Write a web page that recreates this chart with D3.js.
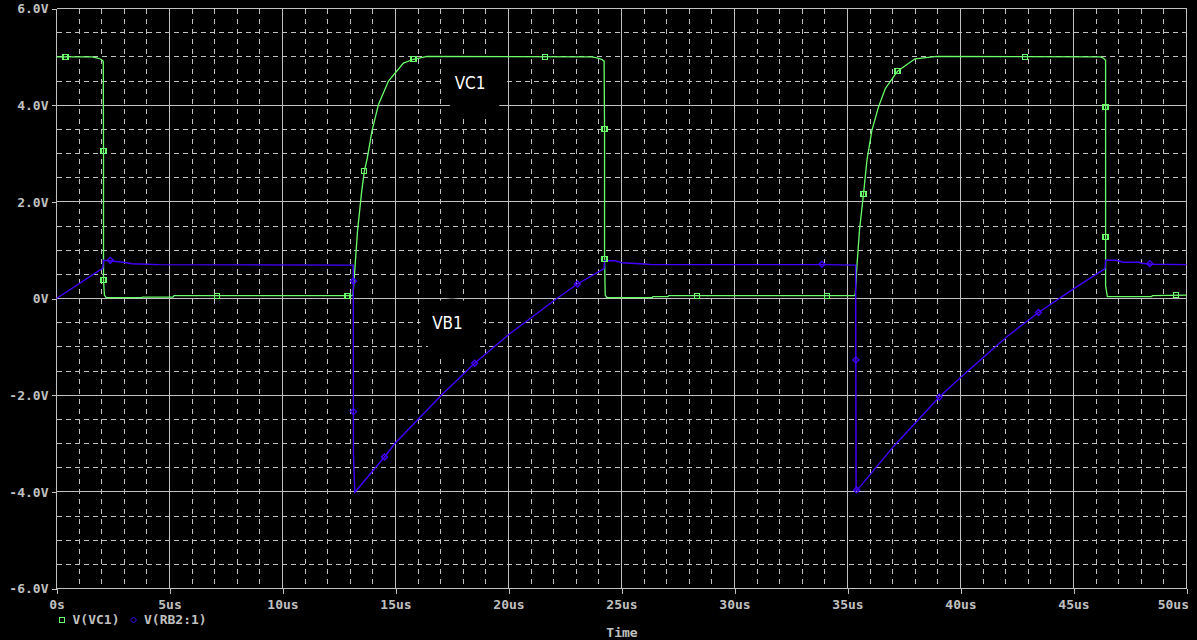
<!DOCTYPE html>
<html><head><meta charset="utf-8">
<script src="https://cdn.jsdelivr.net/npm/d3@7"></script>
<style>html,body{margin:0;padding:0;background:#000;overflow:hidden}</style>
</head><body>
<svg id="chart" width="1197" height="640"></svg>
<script>
// ---- data ----
const xTickValues = [0,5,10,15,20,25,30,35,40,45,50];
const xTickLabels = ["0s","5us","10us","15us","20us","25us","30us","35us","40us","45us","50us"];
const yTickValues = [6,4,2,0,-2,-4,-6];
const yTickLabels = ["6.0V","4.0V","2.0V","0V","-2.0V","-4.0V","-6.0V"];
const seriesNames = ["V(VC1)","V(RB2:1)"];
const traceLabels = ["VC1","VB1"];

// V(VC1): [time us, volts]
const vc1 = [
  [0,5.0],[1.57,5.0],[1.86,4.97],[2.0,4.94],[2.07,4.91],[2.08,3.05],[2.08,0.38],[2.12,0.07],[2.2,0.02],
  [3.78,0.02],[3.8,0.03],[5.15,0.03],[5.2,0.06],[13.08,0.06],[13.12,0.07],[13.2,0.6],[13.32,1.4],
  [13.5,2.2],[13.62,2.63],[13.75,2.9],[13.96,3.47],[14.25,4.02],[14.69,4.5],[15.35,4.87],[15.8,4.95],
  [16.39,5.01],[23.7,5.0],[24.0,4.97],[24.15,4.94],[24.23,4.91],[24.25,3.5],[24.25,0.81],[24.28,0.07],
  [24.35,0.02],[26.35,0.02],[26.4,0.04],[27.05,0.04],[27.1,0.06],[35.3,0.06],[35.34,0.07],[35.41,0.62],
  [35.53,1.41],[35.71,2.17],[35.86,2.86],[36.08,3.48],[36.37,3.96],[36.67,4.34],[37.21,4.70],[37.99,4.96],
  [38.95,5.01],[46.2,5.0],[46.33,4.97],[46.42,4.93],[46.42,0.26],[46.5,0.04],[48.45,0.04],[48.5,0.06],
  [50,0.07]
];
const vc1Markers = [
  [0.4,5.0],[2.08,3.05],[2.08,0.38],[7.11,0.05],[12.88,0.06],[13.62,2.63],[15.8,4.96],[21.62,5.0],
  [24.25,3.5],[24.25,0.81],[28.35,0.05],[34.1,0.06],[35.71,2.17],[37.21,4.70],[42.86,5.0],
  [46.42,3.97],[46.42,1.28],[49.55,0.065]
];
// V(RB2:1)
const vb1 = [
  [0,0],[2.05,0.63],[2.08,0.79],[2.52,0.77],[2.96,0.75],[3.34,0.72],[4.51,0.70],[13.13,0.69],
  [13.14,-3.23],[13.2,-4.01],[14.51,-3.28],[14.99,-2.99],[17.05,-1.99],[18.5,-1.34],[20.0,-0.75],
  [22.14,0.0],[23.05,0.30],[24.23,0.62],[24.25,0.78],[24.72,0.78],[25.02,0.74],[25.83,0.72],
  [26.35,0.70],[33.87,0.70],[35.36,0.69],[35.38,-3.97],[35.42,-3.97],[37.04,-3.06],[39.06,-2.04],
  [39.99,-1.64],[42.05,-0.79],[43.45,-0.29],[45.0,0.2],[46.4,0.62],[46.42,0.79],[46.9,0.79],
  [47.2,0.75],[47.9,0.75],[48.0,0.73],[48.45,0.71],[50,0.70]
];
const vb1Markers = [
  [2.38,0.79],[13.14,0.36],[13.14,-2.34],[14.51,-3.28],[18.5,-1.34],[23.05,0.30],[33.87,0.71],
  [35.37,-1.27],[35.4,-3.96],[39.06,-2.04],[43.45,-0.29],[48.38,0.72]
];

// ---- layout ----
const GREEN = "#6cff6c", BLUE = "#4400ff", GRID = "#c0c0c0", TEXT = "#c0c0c0";
const svg = d3.select("#chart");
svg.append("rect").attr("width",1197).attr("height",640).attr("fill","#000");
const x = d3.scaleLinear().domain([0,50]).range([56.5,1186.5]);
const y = d3.scaleLinear().domain([-6,6]).range([588.5,8.5]);

// grid
const g = svg.append("g").attr("shape-rendering","crispEdges");
const xMinor = d3.range(1,50,1).filter(v => v % 5 !== 0);
const yMinor = d3.range(-5.5,6,0.5).filter(v => Math.abs(v % 2) !== 0);
g.selectAll(".vmin").data(xMinor).join("line")
  .attr("x1",d=>x(d)).attr("x2",d=>x(d)).attr("y1",y(6)).attr("y2",y(-6))
  .attr("stroke",GRID).attr("stroke-dasharray","5,5");
g.selectAll(".hmin").data(yMinor).join("line")
  .attr("x1",x(0)).attr("x2",x(50)).attr("y1",d=>y(d)).attr("y2",d=>y(d))
  .attr("stroke",GRID).attr("stroke-dasharray","5,4");
g.selectAll(".vmaj").data(xTickValues).join("line")
  .attr("x1",d=>x(d)).attr("x2",d=>x(d)).attr("y1",y(6)).attr("y2",y(-6))
  .attr("stroke",GRID);
g.selectAll(".hmaj").data(yTickValues).join("line")
  .attr("x1",x(0)).attr("x2",x(50)).attr("y1",d=>y(d)).attr("y2",d=>y(d))
  .attr("stroke",GRID);

// label masks
svg.append("ellipse").attr("cx",x(18.5)).attr("cy",y(4.4)).attr("rx",33).attr("ry",30).attr("fill","#000");
svg.append("ellipse").attr("cx",x(17.5)).attr("cy",y(-0.6)).attr("rx",32).attr("ry",29).attr("fill","#000");

// axes
const xAxis = d3.axisBottom(x).tickValues(xTickValues)
  .tickFormat((d,i)=>xTickLabels[i]).tickSize(5).tickPadding(6);
const ax = svg.append("g").attr("transform",`translate(0,${y(-6)})`).call(xAxis);
const yAxis = d3.axisLeft(y).tickValues(yTickValues)
  .tickFormat((d,i)=>yTickLabels[i]).tickSize(5).tickPadding(3);
const ay = svg.append("g").attr("transform",`translate(${x(0)},0)`).call(yAxis);
[ax,ay].forEach(a=>{
  a.select(".domain").remove();
  a.selectAll("line").attr("stroke",GRID).attr("shape-rendering","crispEdges");
  a.selectAll("text").attr("fill",TEXT)
    .style("font-family","'DejaVu Sans Mono', monospace").style("font-size","13px").style("font-weight","bold");
});
ax.selectAll("text").filter(d=>d===50).attr("text-anchor","end").attr("dx","2");

// traces
const line = d3.line().x(d=>x(d[0])).y(d=>y(d[1]));
svg.append("path").datum(vc1).attr("d",line).attr("fill","none").attr("stroke",GREEN).attr("stroke-width",1.3);
svg.append("path").datum(vb1).attr("d",line).attr("fill","none").attr("stroke",BLUE).attr("stroke-width",1.4);

svg.selectAll(".m1").data(vc1Markers).join("rect")
  .attr("x",d=>x(d[0])-2.5).attr("y",d=>y(d[1])-2.5).attr("width",5).attr("height",5)
  .attr("fill","none").attr("stroke",GREEN).attr("stroke-width",1.2).attr("shape-rendering","crispEdges");
const diamond = (cx,cy,r)=>`M${cx},${cy-r}L${cx+r},${cy}L${cx},${cy+r}L${cx-r},${cy}Z`;
svg.selectAll(".m2").data(vb1Markers).join("path")
  .attr("d",d=>diamond(x(d[0]),y(d[1]),3))
  .attr("fill","none").attr("stroke",BLUE).attr("stroke-width",1.3);

// trace labels
const lab = svg.append("g").style("font-family","'DejaVu Sans Condensed','DejaVu Sans',sans-serif")
  .style("font-size","17px").attr("fill","#ffffff");
lab.append("text").attr("x",x(18.3)).attr("y",89).attr("text-anchor","middle").text(traceLabels[0]);
lab.append("text").attr("x",x(17.3)).attr("y",329).attr("text-anchor","middle").text(traceLabels[1]);

// legend
const leg = svg.append("g").style("font-family","'DejaVu Sans Mono', monospace")
  .style("font-size","13px").style("font-weight","bold").attr("fill",TEXT);
leg.append("rect").attr("x",59).attr("y",617.5).attr("width",5).attr("height",5)
  .attr("fill","none").attr("stroke",GREEN).attr("shape-rendering","crispEdges");
leg.append("text").attr("x",72.5).attr("y",624).text(seriesNames[0]);
leg.append("path").attr("d",diamond(133.5,620,3)).attr("fill","none").attr("stroke",BLUE);
leg.append("text").attr("x",144).attr("y",624).text(seriesNames[1]);
leg.append("text").attr("x",622).attr("y",637).attr("text-anchor","middle").text("Time");
</script>
</body></html>
